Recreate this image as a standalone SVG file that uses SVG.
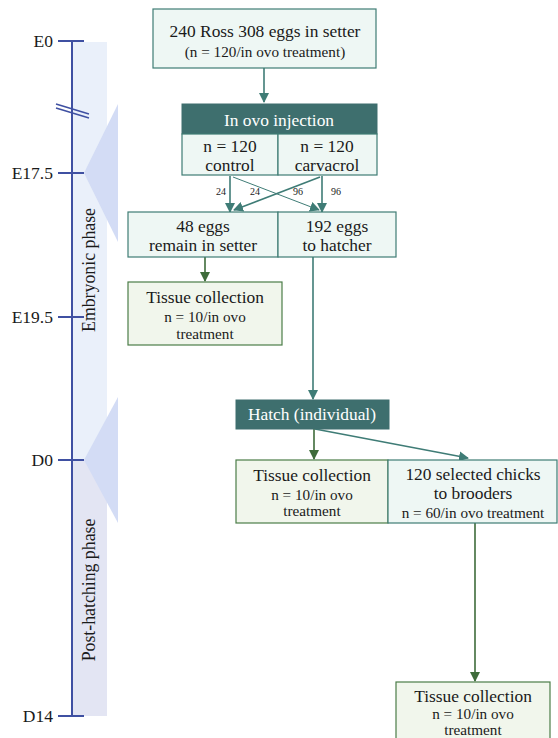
<svg xmlns="http://www.w3.org/2000/svg" width="558" height="738" viewBox="0 0 558 738" font-family="'Liberation Serif', 'Times New Roman', serif">
<defs>
<style>
text{font-family:"Liberation Serif","Times New Roman",serif}
.t{fill:#1a1a1a;text-anchor:middle}
.lg{font-size:17.4px}
.sm{font-size:15.2px}
.xs{font-size:10px}
.w{fill:#ffffff}
.lab{font-size:17.5px;fill:#1a1a1a;text-anchor:end}
.ph{font-size:17.8px;fill:#1a1a1a;text-anchor:middle}
.mint{fill:#eef7f4;stroke:#3f7c74;stroke-width:1.2}
.grn{fill:#f1f6ec;stroke:#4b7d48;stroke-width:1.2}
.dark{fill:#3e6f6e;stroke:#3e6f6e}
.ct{stroke:#3f7c76;stroke-width:1.6;fill:none}
.cg{stroke:#3e6b3a;stroke-width:1.6;fill:none}
.ax{stroke:#3f50a2;stroke-width:2;fill:none}
</style>
<marker id="at" markerWidth="10" markerHeight="10" refX="9" refY="5" orient="auto" markerUnits="userSpaceOnUse"><path d="M0,0 L10,5 L0,10 z" fill="#3f7c76"/></marker>
<marker id="ag" markerWidth="10" markerHeight="10" refX="9" refY="5" orient="auto" markerUnits="userSpaceOnUse"><path d="M0,0 L10,5 L0,10 z" fill="#3e6b3a"/></marker>
</defs>

<g id="timeline">
<rect x="73" y="42" width="34" height="418" fill="#eaf0fa"/>
<rect x="73" y="460" width="34" height="256" fill="#e3e5f3"/>
<polygon points="118,104 84,173 118,242" fill="#d3dcf5"/>
<polygon points="118,397 84,460 118,523" fill="#d3dcf5"/>
<line class="ax" x1="72" y1="41" x2="72" y2="716"/>
<line class="ax" x1="58" y1="41" x2="84" y2="41"/>
<line class="ax" x1="58" y1="173" x2="84" y2="173"/>
<line class="ax" x1="58" y1="317" x2="84" y2="317"/>
<line class="ax" x1="58" y1="460" x2="84" y2="460"/>
<line class="ax" x1="58" y1="716" x2="84" y2="716"/>
<line x1="56" y1="104" x2="89" y2="114" stroke="#3f50a2" stroke-width="1.5"/>
<line x1="56" y1="108" x2="89" y2="118" stroke="#3f50a2" stroke-width="1.5"/>
<text class="lab" x="53" y="47">E0</text>
<text class="lab" x="53" y="179">E17.5</text>
<text class="lab" x="53" y="323">E19.5</text>
<text class="lab" x="53" y="466">D0</text>
<text class="lab" x="53" y="722">D14</text>
<text class="ph" transform="translate(95,270) rotate(-90)">Embryonic phase</text>
<text class="ph" transform="translate(95,590) rotate(-90)">Post-hatching phase</text>
</g>

<g id="connectors">
<line class="ct" x1="264" y1="68" x2="264" y2="102" marker-end="url(#at)"/>
<line class="ct" x1="230" y1="176" x2="230" y2="212" marker-end="url(#at)"/>
<line class="ct" x1="322" y1="176" x2="322" y2="212" marker-end="url(#at)"/>
<line x1="233" y1="177" x2="319" y2="210" stroke="#3f7c76" stroke-width="1" marker-end="url(#at)"/>
<line x1="320" y1="177" x2="234" y2="210" stroke="#3f7c76" stroke-width="1.6" marker-end="url(#at)"/>
<line class="cg" x1="205" y1="257" x2="205" y2="281" marker-end="url(#ag)"/>
<line class="ct" x1="313" y1="257" x2="313" y2="399" marker-end="url(#at)"/>
<line class="cg" x1="314" y1="429" x2="314" y2="459" marker-end="url(#ag)"/>
<line class="ct" x1="315" y1="429" x2="468" y2="458" marker-end="url(#at)"/>
<line class="cg" x1="475" y1="523" x2="475" y2="681" marker-end="url(#ag)"/>
<text class="t xs" x="221" y="195">24</text>
<text class="t xs" x="255" y="195">24</text>
<text class="t xs" x="298" y="195">96</text>
<text class="t xs" x="336" y="195">96</text>
</g>

<g id="eggs-setter">
<rect class="mint" x="153" y="9" width="223" height="59"/>
<text class="t lg" x="265" y="37">240 Ross 308 eggs in setter</text>
<text class="t sm" x="265" y="57">(n = 120/in ovo treatment)</text>
</g>

<g id="injection">
<rect class="dark" x="182" y="104" width="195" height="30"/>
<text class="t lg w" x="279" y="126">In ovo injection</text>
</g>
<g id="control">
<rect class="mint" x="182" y="134" width="96" height="41"/>
<text class="t lg" x="230" y="152">n = 120</text>
<text class="t lg" x="230" y="171">control</text>
</g>
<g id="carvacrol">
<rect class="mint" x="278" y="134" width="99" height="41"/>
<text class="t lg" x="327" y="152">n = 120</text>
<text class="t lg" x="327" y="171">carvacrol</text>
</g>

<g id="remain">
<rect class="mint" x="128" y="212" width="150" height="45"/>
<text class="t lg" x="203" y="232">48 eggs</text>
<text class="t lg" x="203" y="251">remain in setter</text>
</g>
<g id="hatcher">
<rect class="mint" x="278" y="212" width="118" height="45"/>
<text class="t lg" x="337" y="232">192 eggs</text>
<text class="t lg" x="337" y="251">to hatcher</text>
</g>

<g id="tissue1">
<rect class="grn" x="128" y="282" width="154" height="63"/>
<text class="t lg" x="205" y="303">Tissue collection</text>
<text class="t sm" x="205" y="322">n = 10/in ovo</text>
<text class="t sm" x="205" y="339">treatment</text>
</g>

<g id="hatch">
<rect class="dark" x="236" y="400" width="153" height="29"/>
<text class="t lg w" x="312" y="420">Hatch (individual)</text>
</g>

<g id="tissue2">
<rect class="grn" x="236" y="460" width="152" height="63"/>
<text class="t lg" x="312" y="481">Tissue collection</text>
<text class="t sm" x="312" y="500">n = 10/in ovo</text>
<text class="t sm" x="312" y="516">treatment</text>
</g>
<g id="brooders">
<rect class="mint" x="388" y="460" width="169" height="63"/>
<text class="t lg" x="473" y="480">120 selected chicks</text>
<text class="t lg" x="473" y="499">to brooders</text>
<text class="t sm" x="473" y="518">n = 60/in ovo treatment</text>
</g>

<g id="tissue3">
<rect class="grn" x="396" y="682" width="154" height="60"/>
<text class="t lg" x="473" y="702">Tissue collection</text>
<text class="t sm" x="473" y="719">n = 10/in ovo</text>
<text class="t sm" x="473" y="735">treatment</text>
</g>
</svg>
